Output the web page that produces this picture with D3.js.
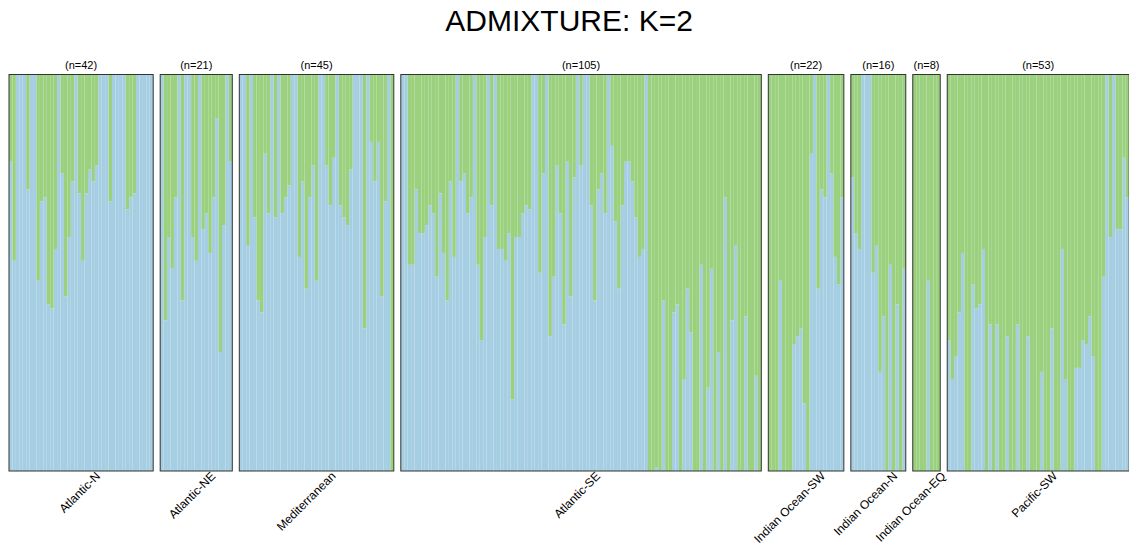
<!DOCTYPE html>
<html lang="en">
<head>
    <meta charset="UTF-8">
    <title>ADMIXTURE: K=2</title>
    <script src="https://cdn.jsdelivr.net/npm/d3@7"></script>
    <style>
        body { margin: 0; background: #ffffff; }
        text { font-family: "Liberation Sans", Arial, sans-serif; fill: #000000; }
        .title { font-size: 30px; }
        .count { font-size: 11px; }
        .pop { font-size: 12px; }
        .frame { fill: none; stroke: #333333; stroke-width: 1px; }
    </style>
</head>
<body>
<svg width="1129" height="547"></svg>

<script>
    // populations in plot order and sample sizes
    var populations = ["Atlantic-N", "Atlantic-NE", "Mediterranean", "Atlantic-SE",
                       "Indian Ocean-SW", "Indian Ocean-N", "Indian Ocean-EQ", "Pacific-SW"];
    var counts = [42, 21, 45, 105, 22, 16, 8, 53];

    // ancestry proportion of cluster 1 (blue) per individual, cluster 2 (green) = 1 - q
    var qAtlanticN = [0.78,0.53,1,1,1,0.71,1,1,0.48,0.68, 0.69,0.42,0.41,0.56,1,0.75,0.44,0.59,0.73,1,
                      0.70,0.53,0.70,0.76,0.73,0.77,1,1,1,0.68, 1,1,1,1,0.66,0.69,0.70,1,1,1, 1,1];
    var qAtlanticNE = [1,0.38,0.59,0.51,0.69,1,0.43,1,1,0.59, 0.53,1,0.61,0.65,0.55,0.69,0.89,0.30,0.62,1, 0.78];
    var qMediterranean = [1,1,0.57,1,0.64,0.43,0.40,0.80,0.65,1, 0.64,1,0.65,0.69,0.72,1,1,0.54,0.73,0.46,
                          0.69,0.77,0.48,1,1,0.77,0.67,0.79,1,0.67, 0.64,0.62,0.76,1,1,1,0.36,1,0.83,0.73,
                          0.83,0.44,0.68,1,0];
    var qAtlanticSE = [1,1,0.52,0.52,0.71,0.60,0.60,0.62,0.67,0.65, 0.49,0.70,0.55,0.43,0.73,0.54,1,0.73,0.75,0.65,
                       0.69,1,0.52,0.33,0.59,1,0.67,1,0.56,0.56, 0.53,0.60,0.18,0.59,0.59,0.65,0.67,0.66,1,1,
                       0.50,0.75,1,0.34,0.49,0.77,0.65,0.37,0.78,0.44, 0.74,1,0.77,1,1,0.67,0.43,0.71,0.75,0.65,
                       1,0.82,0.63,0.46,0.67,0.78,0.78,0.73,0.64,0.54, 0.56,1,0,0,0.01,0,0.43,0,0,0.40,
                       0.42,0,0.23,0.46,0.35,0,0,0.52,0,0.21, 0.51,0,0.30,0,0.69,0,0.38,0.57,0,0,
                       0.39,0,0,0.24,0];
    var qIndianSW = [0,0,0,0.48,0,0,0,0.32,0.34,0.36, 0.17,0,0.80,1,0.46,0.71,0.69,1,0.75,0.54, 0.47,0.69];
    var qIndianN = [0.74,0.60,0.56,1,1,1,0.50,0.57,0.25,0.39, 0,0.52,0,0.42,0,0.51];
    var qIndianEQ = [0,0,0,0,0.48,0,0,0];
    var qPacificSW = [0.33,0.23,0.29,0.40,0.55,0,0,0.47,0.41,0.42, 0.56,0,0.37,0,0.37,0,0,0.34,0,0,
                      0.37,0,0,0.34,0,0,0,0.25,0,0, 0.36,0,0,0.56,0.23,0,0,0.26,0.26,0.33,
                      0.32,0.39,0.29,0,0,0.49,1,0.59,1,0.61, 0.61,0.79,0.69];

    var qValues = [qAtlanticN, qAtlanticNE, qMediterranean, qAtlanticSE,
                   qIndianSW, qIndianN, qIndianEQ, qPacificSW];

    var colors = ["#a6cee3", "#9bd17e"];

    var svg = d3.select("svg");

    // note: "top" is taken by window.top, so plot* names
    var plotLeft = 9, plotRight = 1129.2, gap = 7,
        plotTop = 74.5, plotBottom = 471;

    var total = d3.sum(counts);
    var barW = (plotRight - plotLeft - gap * (counts.length - 1)) / total;
    var starts = [0].concat(Array.from(d3.cumsum(counts)).slice(0, -1));

    // position of an individual along the whole row (no gaps), gaps added per panel
    var x = d3.scaleLinear().domain([0, total]).range([plotLeft, plotLeft + total * barW]);
    var y = d3.scaleLinear().domain([0, 1]).range([plotBottom, plotTop]);

    var panels = populations.map(function (p, k) {
        var x0 = x(starts[k]) + k * gap;
        var x1 = x(starts[k] + counts[k]) + k * gap;
        return {name: p, n: counts[k], q: qValues[k], x0: x0, x1: x1,
                band: d3.scaleBand().domain(d3.range(counts[k])).range([x0, x1]).padding(0)};
    });

    svg.append("text")
        .attr("class", "title")
        .attr("x", (plotLeft + plotRight) / 2)
        .attr("y", 31)
        .attr("text-anchor", "middle")
        .text("ADMIXTURE: K=2");

    var g = svg.selectAll("g.panel")
        .data(panels)
        .enter().append("g")
        .attr("class", "panel");

    function individuals(d) {
        return d.q.map(function (v, i) { return {v: v, i: i, p: d}; });
    }

    // blue part from the bottom
    g.selectAll("rect.q1")
        .data(individuals)
        .enter().append("rect")
        .attr("class", "q1")
        .attr("x", function (d) { return d.p.band(d.i); })
        .attr("width", function (d) { return d.p.band.bandwidth(); })
        .attr("y", function (d) { return y(d.v); })
        .attr("height", function (d) { return y(0) - y(d.v); })
        .attr("fill", colors[0]);

    // green part on top
    g.selectAll("rect.q2")
        .data(individuals)
        .enter().append("rect")
        .attr("class", "q2")
        .attr("x", function (d) { return d.p.band(d.i); })
        .attr("width", function (d) { return d.p.band.bandwidth(); })
        .attr("y", y(1))
        .attr("height", function (d) { return y(d.v) - y(1); })
        .attr("fill", colors[1]);

    g.append("rect")
        .attr("class", "frame")
        .attr("x", function (d) { return d.x0; })
        .attr("y", plotTop)
        .attr("width", function (d) { return d.x1 - d.x0; })
        .attr("height", plotBottom - plotTop);

    g.append("text")
        .attr("class", "count")
        .attr("x", function (d) { return (d.x0 + d.x1) / 2; })
        .attr("y", 69)
        .attr("text-anchor", "middle")
        .text(function (d) { return "(n=" + d.n + ")"; });

    // rotated population names under each panel
    g.append("text")
        .attr("class", "pop")
        .attr("text-anchor", "end")
        .attr("dominant-baseline", "central")
        .attr("transform", function (d) {
            return "translate(" + ((d.x0 + d.x1) / 2 + 17) + "," + 474 + ") rotate(-45)";
        })
        .text(function (d) { return d.name; });
</script>
</body>
</html>
